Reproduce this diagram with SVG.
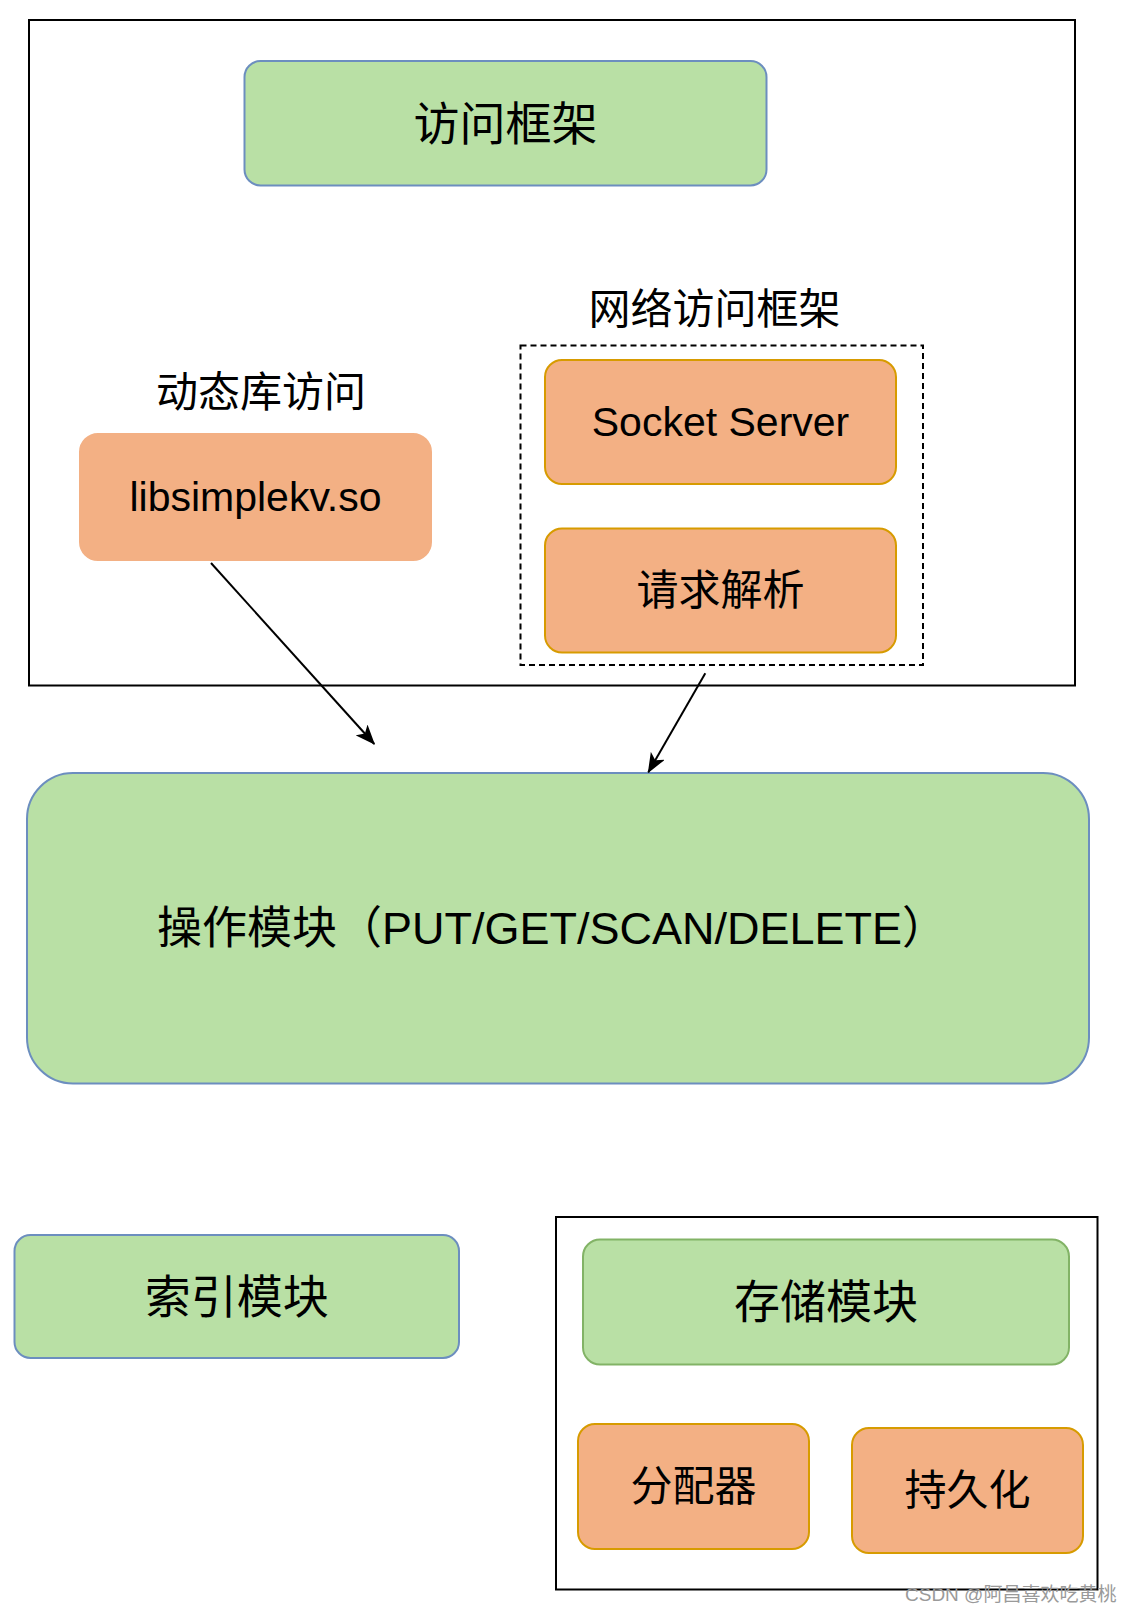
<svg xmlns="http://www.w3.org/2000/svg" width="1131" height="1613" viewBox="0 0 1131 1613">
<style>
text{font-family:"Liberation Sans","Noto Sans CJK SC",sans-serif;fill:#000;text-anchor:middle;dominant-baseline:central}
.frame{fill:none;stroke:#000;stroke-width:2}
.green{fill:#b9e0a5;stroke:#6c8ebf;stroke-width:2}
.green2{fill:#b9e0a5;stroke:#82b366;stroke-width:2}
.orange{fill:#f3b084;stroke:#d79b00;stroke-width:2}
.conn{fill:none;stroke:#000;stroke-width:2}
</style>
<defs>
<marker id="arr" markerUnits="userSpaceOnUse" viewBox="0 0 20 16" markerWidth="20" markerHeight="16" refX="19" refY="8" orient="auto">
<path d="M0,0 L20,8 L0,16 L5,8 z" fill="#000"/>
</marker>
</defs>
<rect width="1131" height="1613" fill="#fff"/>
<g id="outer-frame"><rect class="frame" x="29" y="20" width="1046" height="665.5"/></g>
<g id="access-framework"><rect class="green" x="244.5" y="61" width="522" height="124.5" rx="16"/><text x="505.5" y="123.5" font-size="46">访问框架</text></g>
<g id="network-label"><text x="714.5" y="309" font-size="42">网络访问框架</text></g>
<g id="network-group"><rect x="520.5" y="345.5" width="402.5" height="319.5" fill="none" stroke="#000" stroke-width="2" stroke-dasharray="6 4"/></g>
<g id="dynlib-label"><text x="261" y="392" font-size="42">动态库访问</text></g>
<g id="libsimplekv"><rect x="80" y="434" width="351" height="126" rx="18" fill="#f3b084" stroke="#f3b084" stroke-width="2"/><text x="255.5" y="497" font-size="41">libsimplekv.so</text></g>
<g id="socket-server"><rect class="orange" x="545" y="360" width="351" height="124" rx="17"/><text x="720.5" y="422" font-size="41">Socket Server</text></g>
<g id="request-parse"><rect class="orange" x="545" y="528.5" width="351" height="124" rx="17"/><text x="720.5" y="590.5" font-size="42">请求解析</text></g>
<g id="operation-module"><rect class="green" x="27" y="773" width="1062" height="310.5" rx="46"/><text x="157" y="928" font-size="45" style="text-anchor:start">操作模块（PUT/GET/SCAN/DELETE）</text></g>
<g id="index-module"><rect class="green" x="14.5" y="1235" width="444.5" height="123" rx="16"/><text x="236.7" y="1296.5" font-size="46">索引模块</text></g>
<g id="storage-frame"><rect class="frame" x="556" y="1217" width="541.5" height="372.5"/></g>
<g id="storage-module"><rect class="green2" x="583" y="1239.5" width="486" height="125" rx="17"/><text x="826" y="1302" font-size="46">存储模块</text></g>
<g id="allocator"><rect class="orange" x="578" y="1424" width="231" height="125" rx="17"/><text x="693.5" y="1486.5" font-size="42">分配器</text></g>
<g id="persistence"><rect class="orange" x="852" y="1428" width="231" height="125" rx="17"/><text x="967.5" y="1490.5" font-size="42">持久化</text></g>
<g id="connectors">
<line class="conn" x1="211" y1="563" x2="374.3" y2="744" marker-end="url(#arr)"/>
<line class="conn" x1="705.3" y1="673.3" x2="648.3" y2="772.3" marker-end="url(#arr)"/>
</g>
<text x="905" y="1594" font-size="19" style="text-anchor:start;fill:#9a9a9a">CSDN @阿昌喜欢吃黄桃</text>
</svg>
